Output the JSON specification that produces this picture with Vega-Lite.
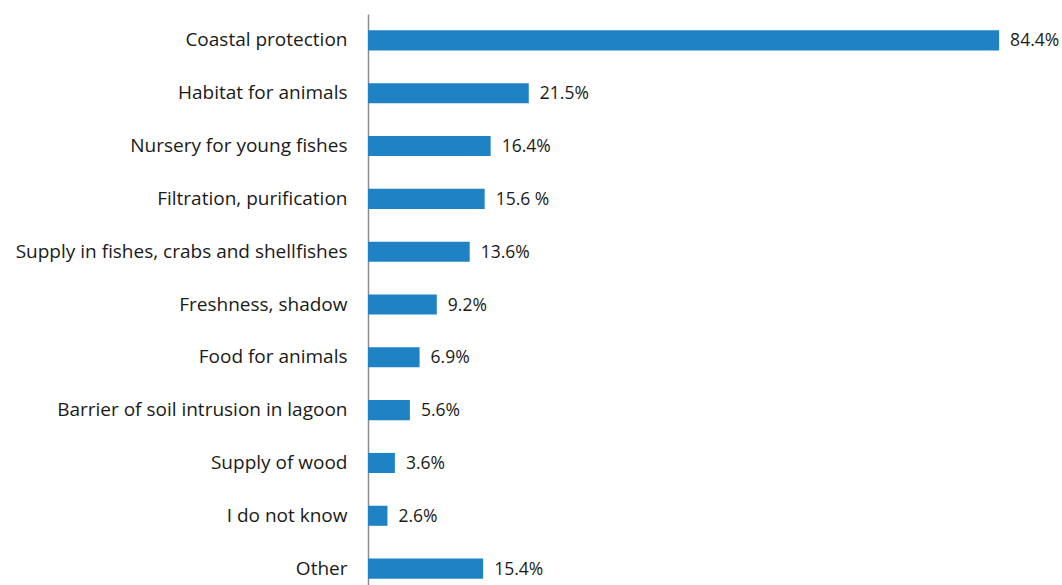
{
  "$schema": "https://vega.github.io/schema/vega-lite/v6.json",
  "width": 673,
  "height": 581,
  "autosize": "none",
  "padding": {"left": 368, "top": 14, "right": 21, "bottom": 0},
  "background": "white",
  "config": {"view": {"stroke": null}, "font": "Open Sans"},
  "data": {"values": [
    {"item": "Coastal protection", "value": 84.4, "label": "84.4%"},
    {"item": "Habitat for animals", "value": 21.5, "label": "21.5%"},
    {"item": "Nursery for young fishes", "value": 16.4, "label": "16.4%"},
    {"item": "Filtration, purification", "value": 15.6, "label": "15.6 %"},
    {"item": "Supply in fishes, crabs and shellfishes", "value": 13.6, "label": "13.6%"},
    {"item": "Freshness, shadow", "value": 9.2, "label": "9.2%"},
    {"item": "Food for animals", "value": 6.9, "label": "6.9%"},
    {"item": "Barrier of soil intrusion in lagoon", "value": 5.6, "label": "5.6%"},
    {"item": "Supply of wood", "value": 3.6, "label": "3.6%"},
    {"item": "I do not know", "value": 2.6, "label": "2.6%"},
    {"item": "Other", "value": 15.4, "label": "15.4%"}
  ]},
  "encoding": {
    "y": {
      "field": "item", "type": "nominal", "sort": null,
      "scale": {"paddingInner": 0.62, "paddingOuter": 0.31},
      "axis": {
        "title": null, "ticks": false, "labelPadding": 21,
        "labelFontSize": 19, "labelColor": "#1a1a1a", "labelFont": "Open Sans",
        "domainColor": "#8c8c8c", "domainWidth": 1.5, "labelLimit": 400
      }
    },
    "x": {
      "field": "value", "type": "quantitative",
      "scale": {"domain": [0, 90], "nice": false},
      "axis": null
    }
  },
  "layer": [
    {"mark": {"type": "bar", "color": "#1f82c4"}},
    {
      "mark": {"type": "text", "align": "left", "dx": 11, "dy": 1, "fontSize": 17.5, "color": "#1a1a1a", "font": "Open Sans"},
      "encoding": {"text": {"field": "label"}}
    }
  ]
}
